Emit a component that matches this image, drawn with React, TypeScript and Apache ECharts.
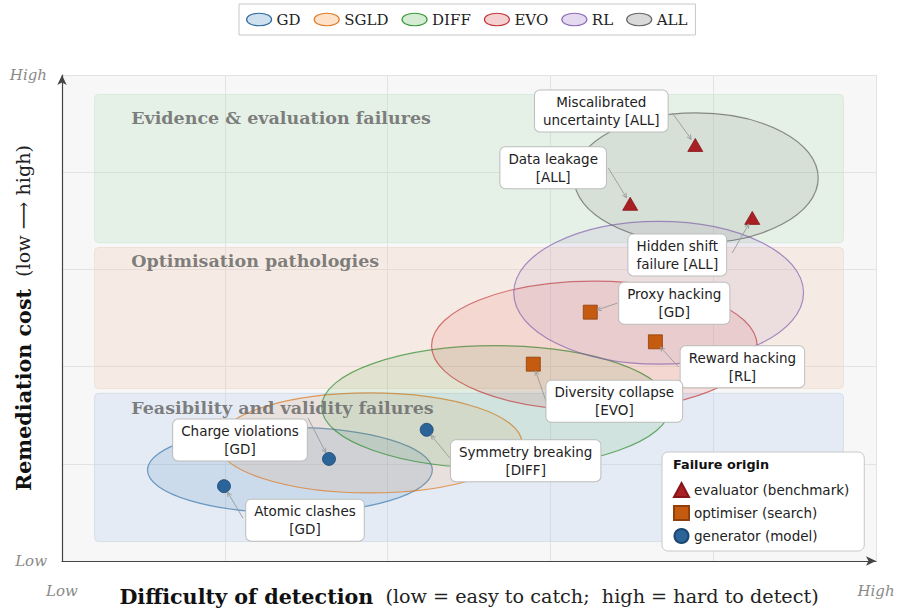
import React, { useEffect, useRef } from 'react';
import * as echarts from 'echarts';

// ---------- data ----------
const groupNames = ['GD', 'SGLD', 'DIFF', 'EVO', 'RL', 'ALL'];
const ellipseCX = [2.8, 3.78, 5.33, 6.54, 7.33, 7.79];
const ellipseCY = [1.87, 2.43, 3.17, 4.43, 5.52, 7.88];
const ellipseRX = [1.75, 1.87, 2.14, 2.0, 1.78, 1.5];
const ellipseRY = [0.88, 1.03, 1.26, 1.33, 1.47, 1.34];

const bandNames = ['Feasibility and validity failures', 'Optimisation pathologies', 'Evidence & evaluation failures'];
const bandLow = [0.4, 3.55, 6.55];
const bandHigh = [3.45, 6.45, 9.6];

const failureNames = [
  'Miscalibrated uncertainty', 'Data leakage', 'Hidden shift failure',
  'Proxy hacking', 'Reward hacking', 'Diversity collapse',
  'Symmetry breaking', 'Charge violations', 'Atomic clashes',
];
const failureGroup = ['ALL', 'ALL', 'ALL', 'GD', 'RL', 'EVO', 'DIFF', 'GD', 'GD'];
const failureOrigin = ['evaluator', 'evaluator', 'evaluator', 'optimiser', 'optimiser', 'optimiser', 'generator', 'generator', 'generator'];
const failureX = [7.78, 6.98, 8.48, 6.49, 7.29, 5.79, 4.48, 3.28, 1.99];
const failureY = [8.56, 7.35, 7.06, 5.12, 4.51, 4.05, 2.7, 2.1, 1.54];

const originKeys = ['evaluator', 'optimiser', 'generator'];
const originNames = ['evaluator (benchmark)', 'optimiser (search)', 'generator (model)'];
const axisEndLabels = ['Low', 'High'];

// ---------- layout & style ----------
const X_MIN = 0, X_MAX = 10, Y_MIN = 0, Y_MAX = 10;
const BAND_X0 = 0.4, BAND_X1 = 9.6;
const bandLabelX = 0.85;
const bandLabelY = [3.15, 6.17, 9.12];
const bandFill = ['rgba(170,195,235,0.22)', 'rgba(245,195,165,0.22)', 'rgba(170,220,175,0.22)'];
const bandStroke = ['rgba(200,210,230,0.6)', 'rgba(235,215,200,0.6)', 'rgba(205,230,208,0.6)'];

const ellipseFill = ['rgba(31,119,180,0.13)', 'rgba(255,127,14,0.10)', 'rgba(44,160,44,0.10)', 'rgba(214,39,40,0.10)', 'rgba(148,103,189,0.10)', 'rgba(127,127,127,0.14)'];
const ellipseStroke = ['rgba(31,100,160,0.6)', 'rgba(220,125,40,0.75)', 'rgba(44,140,44,0.7)', 'rgba(190,50,50,0.65)', 'rgba(130,95,175,0.7)', 'rgba(95,95,95,0.7)'];
const legendFill = ['#cfe0ef', '#fde1c8', '#d3ecd3', '#f5d0d0', '#e4daf0', '#d9d9d9'];
const legendStroke = ['#2c6aa0', '#e07b2a', '#3a9a3a', '#c0363a', '#8d6bb8', '#666666'];

const originSymbol = ['triangle', 'rect', 'circle'];
const originSize: any[] = [[15, 13], 14, 13];
const originColor = ['#a81f24', '#c55a11', '#2b6499'];
const originBorder = ['#86161a', '#8f400c', '#1d4670'];

const annLayout = [
  { dx: -94, dy: -34, sx: 71, sy: 2, words: 1 },
  { dx: -77, dy: -36, sx: 55, sy: 0, words: 2 },
  { dx: -75, dy: 37, sx: 55, sy: -2, words: 2 },
  { dx: 84, dy: -9, sx: -57, sy: 0, words: 2 },
  { dx: 87, dy: 25, sx: -64, sy: 0, words: 2 },
  { dx: 81, dy: 37, sx: -68, sy: 1, words: 2 },
  { dx: 99, dy: 31, sx: -76, sy: -3, words: 2 },
  { dx: -89, dy: -19, sx: 68, sy: -22, words: 2 },
  { dx: 81, dy: 34, sx: -62, sy: -2, words: 2 },
];

const SERIF = '"DejaVu Serif", "Liberation Serif", serif';
const SANS = '"DejaVu Sans", "Noto Sans", sans-serif';
const ellipseIcon = 'path://M0,10 A20,10 0 1,0 40,10 A20,10 0 1,0 0,10 Z';

function labelText(i: number) {
  const w = failureNames[i].split(' ');
  const n = annLayout[i].words;
  const first = w.slice(0, n).join(' ');
  const rest = w.slice(n).concat(['[' + failureGroup[i] + ']']).join(' ');
  return first + '\n' + rest;
}

function buildOption() {
  const series: any[] = [];

  series.push({
    type: 'custom',
    name: 'bands',
    z: 1,
    silent: true,
    data: bandNames.map((n, i) => [bandLow[i], bandHigh[i], i]),
    renderItem: (params: any, api: any) => {
      const i = params.dataIndex;
      const a = api.coord([BAND_X0, api.value(1)]);
      const b = api.coord([BAND_X1, api.value(0)]);
      return {
        type: 'rect',
        shape: { x: a[0], y: a[1], width: b[0] - a[0], height: b[1] - a[1], r: 4 },
        style: { fill: bandFill[i], stroke: bandStroke[i], lineWidth: 1 },
      };
    },
  });

  groupNames.forEach((n, i) => {
    series.push({
      type: 'custom',
      name: n,
      z: 2,
      silent: true,
      itemStyle: { color: legendFill[i], borderColor: legendStroke[i] },
      data: [[ellipseCX[i], ellipseCY[i], ellipseRX[i], ellipseRY[i]]],
      renderItem: (params: any, api: any) => {
        const c = api.coord([api.value(0), api.value(1)]);
        const s = api.size([api.value(2), api.value(3)]);
        return {
          type: 'ellipse',
          shape: { cx: c[0], cy: c[1], rx: s[0], ry: s[1] },
          style: { fill: ellipseFill[i], stroke: ellipseStroke[i], lineWidth: 1.2 },
        };
      },
    });
  });

  series.push({
    type: 'custom',
    name: 'bandLabels',
    z: 3,
    silent: true,
    data: bandNames.map((n, i) => [bandLabelX, bandLabelY[i], i]),
    renderItem: (params: any, api: any) => {
      const i = params.dataIndex;
      const p = api.coord([api.value(0), api.value(1)]);
      return {
        type: 'text',
        x: p[0],
        y: p[1],
        style: {
          text: bandNames[i],
          align: 'left',
          verticalAlign: 'middle',
          fill: 'rgba(110,110,110,0.88)',
          fontFamily: SERIF,
          fontWeight: 'bold',
          fontSize: 17.5,
        },
      };
    },
  });

  originKeys.forEach((k, j) => {
    const data: number[][] = [];
    failureNames.forEach((n, i) => {
      if (failureOrigin[i] === k) data.push([failureX[i], failureY[i]]);
    });
    series.push({
      type: 'scatter',
      name: originNames[j],
      z: 4,
      symbol: originSymbol[j],
      symbolSize: originSize[j],
      itemStyle: { color: originColor[j], borderColor: originBorder[j], borderWidth: 0.8, opacity: 1 },
      data,
    });
  });

  series.push({
    type: 'custom',
    name: 'annotations',
    z: 5,
    silent: true,
    data: failureNames.map((n, i) => [failureX[i], failureY[i], i]),
    renderItem: (params: any, api: any) => {
      const i = params.dataIndex;
      const L = annLayout[i];
      const p = api.coord([api.value(0), api.value(1)]);
      const cx = p[0] + L.dx;
      const cy = p[1] + L.dy;
      const sx = cx + L.sx;
      const sy = cy + L.sy;
      const vx = p[0] - sx;
      const vy = p[1] - sy;
      const len = Math.sqrt(vx * vx + vy * vy);
      const ux = vx / len, uy = vy / len;
      const ex = p[0] - ux * 7;
      const ey = p[1] - uy * 7;
      const ah = 5, aw = 0.45;
      const cosA = Math.cos(aw), sinA = Math.sin(aw);
      const b1 = [ex - ah * (ux * cosA - uy * sinA), ey - ah * (uy * cosA + ux * sinA)];
      const b2 = [ex - ah * (ux * cosA + uy * sinA), ey - ah * (uy * cosA - ux * sinA)];
      return {
        type: 'group',
        children: [
          { type: 'line', shape: { x1: sx, y1: sy, x2: ex, y2: ey }, style: { stroke: '#9a9a9a', lineWidth: 0.9 } },
          { type: 'polyline', shape: { points: [b1, [ex, ey], b2] }, style: { stroke: '#9a9a9a', lineWidth: 0.9, fill: null } },
          {
            type: 'text',
            x: cx,
            y: cy,
            style: {
              text: labelText(i),
              align: 'center',
              verticalAlign: 'middle',
              fill: '#222',
              fontFamily: SANS,
              fontSize: 13.5,
              lineHeight: 18.5,
              backgroundColor: '#ffffff',
              borderColor: '#bdbdbd',
              borderWidth: 1,
              borderRadius: 5,
              padding: [2, 8, 2, 8],
            },
          },
        ],
      };
    },
  });

  const endLabel = (v: number) => (v === X_MIN ? axisEndLabels[0] : v === X_MAX ? axisEndLabels[1] : '');

  return {
    animation: false,
    backgroundColor: '#ffffff',
    grid: {
      left: 62, right: 26, top: 75, bottom: 55,
      containLabel: false,
      outerBoundsMode: 'none',
      show: true, backgroundColor: '#f7f7f7', borderWidth: 0,
    },
    xAxis: {
      type: 'value',
      min: X_MIN,
      max: X_MAX,
      interval: 2,
      axisLine: { show: true, lineStyle: { color: '#444', width: 1.2 }, symbol: ['none', 'arrow'], symbolSize: [7, 10] },
      axisTick: { show: false },
      splitLine: { show: true, lineStyle: { color: '#e3e3e3', width: 1 } },
      axisLabel: {
        formatter: endLabel,
        margin: 22,
        showMinLabel: true,
        showMaxLabel: true,
        fontFamily: SERIF,
        fontStyle: 'italic',
        fontSize: 15,
        color: '#8a8a8a',
      },
      name: '{b|Difficulty of detection}{r|(low = easy to catch;  high = hard to detect)}',
      nameLocation: 'middle',
      nameGap: 25,
      nameMoveOverlap: false,
      nameTextStyle: {
        rich: {
          b: { fontFamily: SERIF, fontWeight: 'bold', fontSize: 20.7, color: '#111' },
          r: { fontFamily: SERIF, fontSize: 19.2, color: '#222', padding: [0, 0, 0, 12] },
        },
      },
    },
    yAxis: {
      type: 'value',
      min: Y_MIN,
      max: Y_MAX,
      interval: 2,
      axisLine: { show: true, lineStyle: { color: '#444', width: 1.2 }, symbol: ['none', 'arrow'], symbolSize: [7, 10] },
      axisTick: { show: false },
      splitLine: { show: true, lineStyle: { color: '#e3e3e3', width: 1 } },
      axisLabel: {
        formatter: endLabel,
        margin: 15,
        showMinLabel: true,
        showMaxLabel: true,
        fontFamily: SERIF,
        fontStyle: 'italic',
        fontSize: 15,
        color: '#8a8a8a',
      },
      name: '{b|Remediation cost}{r|(low ⟶ high)}',
      nameLocation: 'middle',
      nameGap: 28,
      nameRotate: 90,
      nameMoveOverlap: false,
      nameTextStyle: {
        rich: {
          b: { fontFamily: SERIF, fontWeight: 'bold', fontSize: 20.7, color: '#111' },
          r: { fontFamily: SERIF, fontSize: 19.2, color: '#222', padding: [0, 0, 0, 12] },
        },
      },
    },
    legend: [
      {
        left: 239,
        top: 4,
        orient: 'horizontal',
        padding: [8, 8, 8, 7],
        itemGap: 13,
        itemWidth: 25,
        itemHeight: 13,
        borderColor: '#c8c8c8',
        borderWidth: 1,
        backgroundColor: '#ffffff',
        textStyle: { fontFamily: SERIF, fontSize: 15, color: '#222' },
        selectedMode: false,
        data: groupNames.map((n, i) => ({
          name: n,
          icon: ellipseIcon,
          itemStyle: { color: legendFill[i], borderColor: legendStroke[i], borderWidth: 1.2 },
        })),
      },
      {
        left: 662,
        top: 452,
        orient: 'vertical',
        padding: [30, 15, 7, 11],
        itemGap: 7,
        itemWidth: 15,
        itemHeight: 14,
        borderColor: '#c8c8c8',
        borderWidth: 1,
        borderRadius: 6,
        backgroundColor: '#ffffff',
        textStyle: { fontFamily: SANS, fontSize: 13.5, color: '#222' },
        selectedMode: false,
        data: originNames,
      },
    ],
    graphic: [
      {
        type: 'text',
        left: 673,
        top: 458,
        z: 100,
        style: { text: 'Failure origin', fontFamily: SANS, fontWeight: 'bold', fontSize: 12.8, fill: '#111' },
      },
    ],
    series,
  };
}

export default function App() {
  const ref = useRef<HTMLDivElement>(null);
  useEffect(() => {
    if (!ref.current) return;
    const chart = echarts.init(ref.current, null, { renderer: 'svg' });
    chart.setOption(buildOption() as any);
    return () => chart.dispose();
  }, []);
  return <div ref={ref} style={{ position: 'absolute', left: 0, top: 0, width: 902, height: 616 }} />;
}
